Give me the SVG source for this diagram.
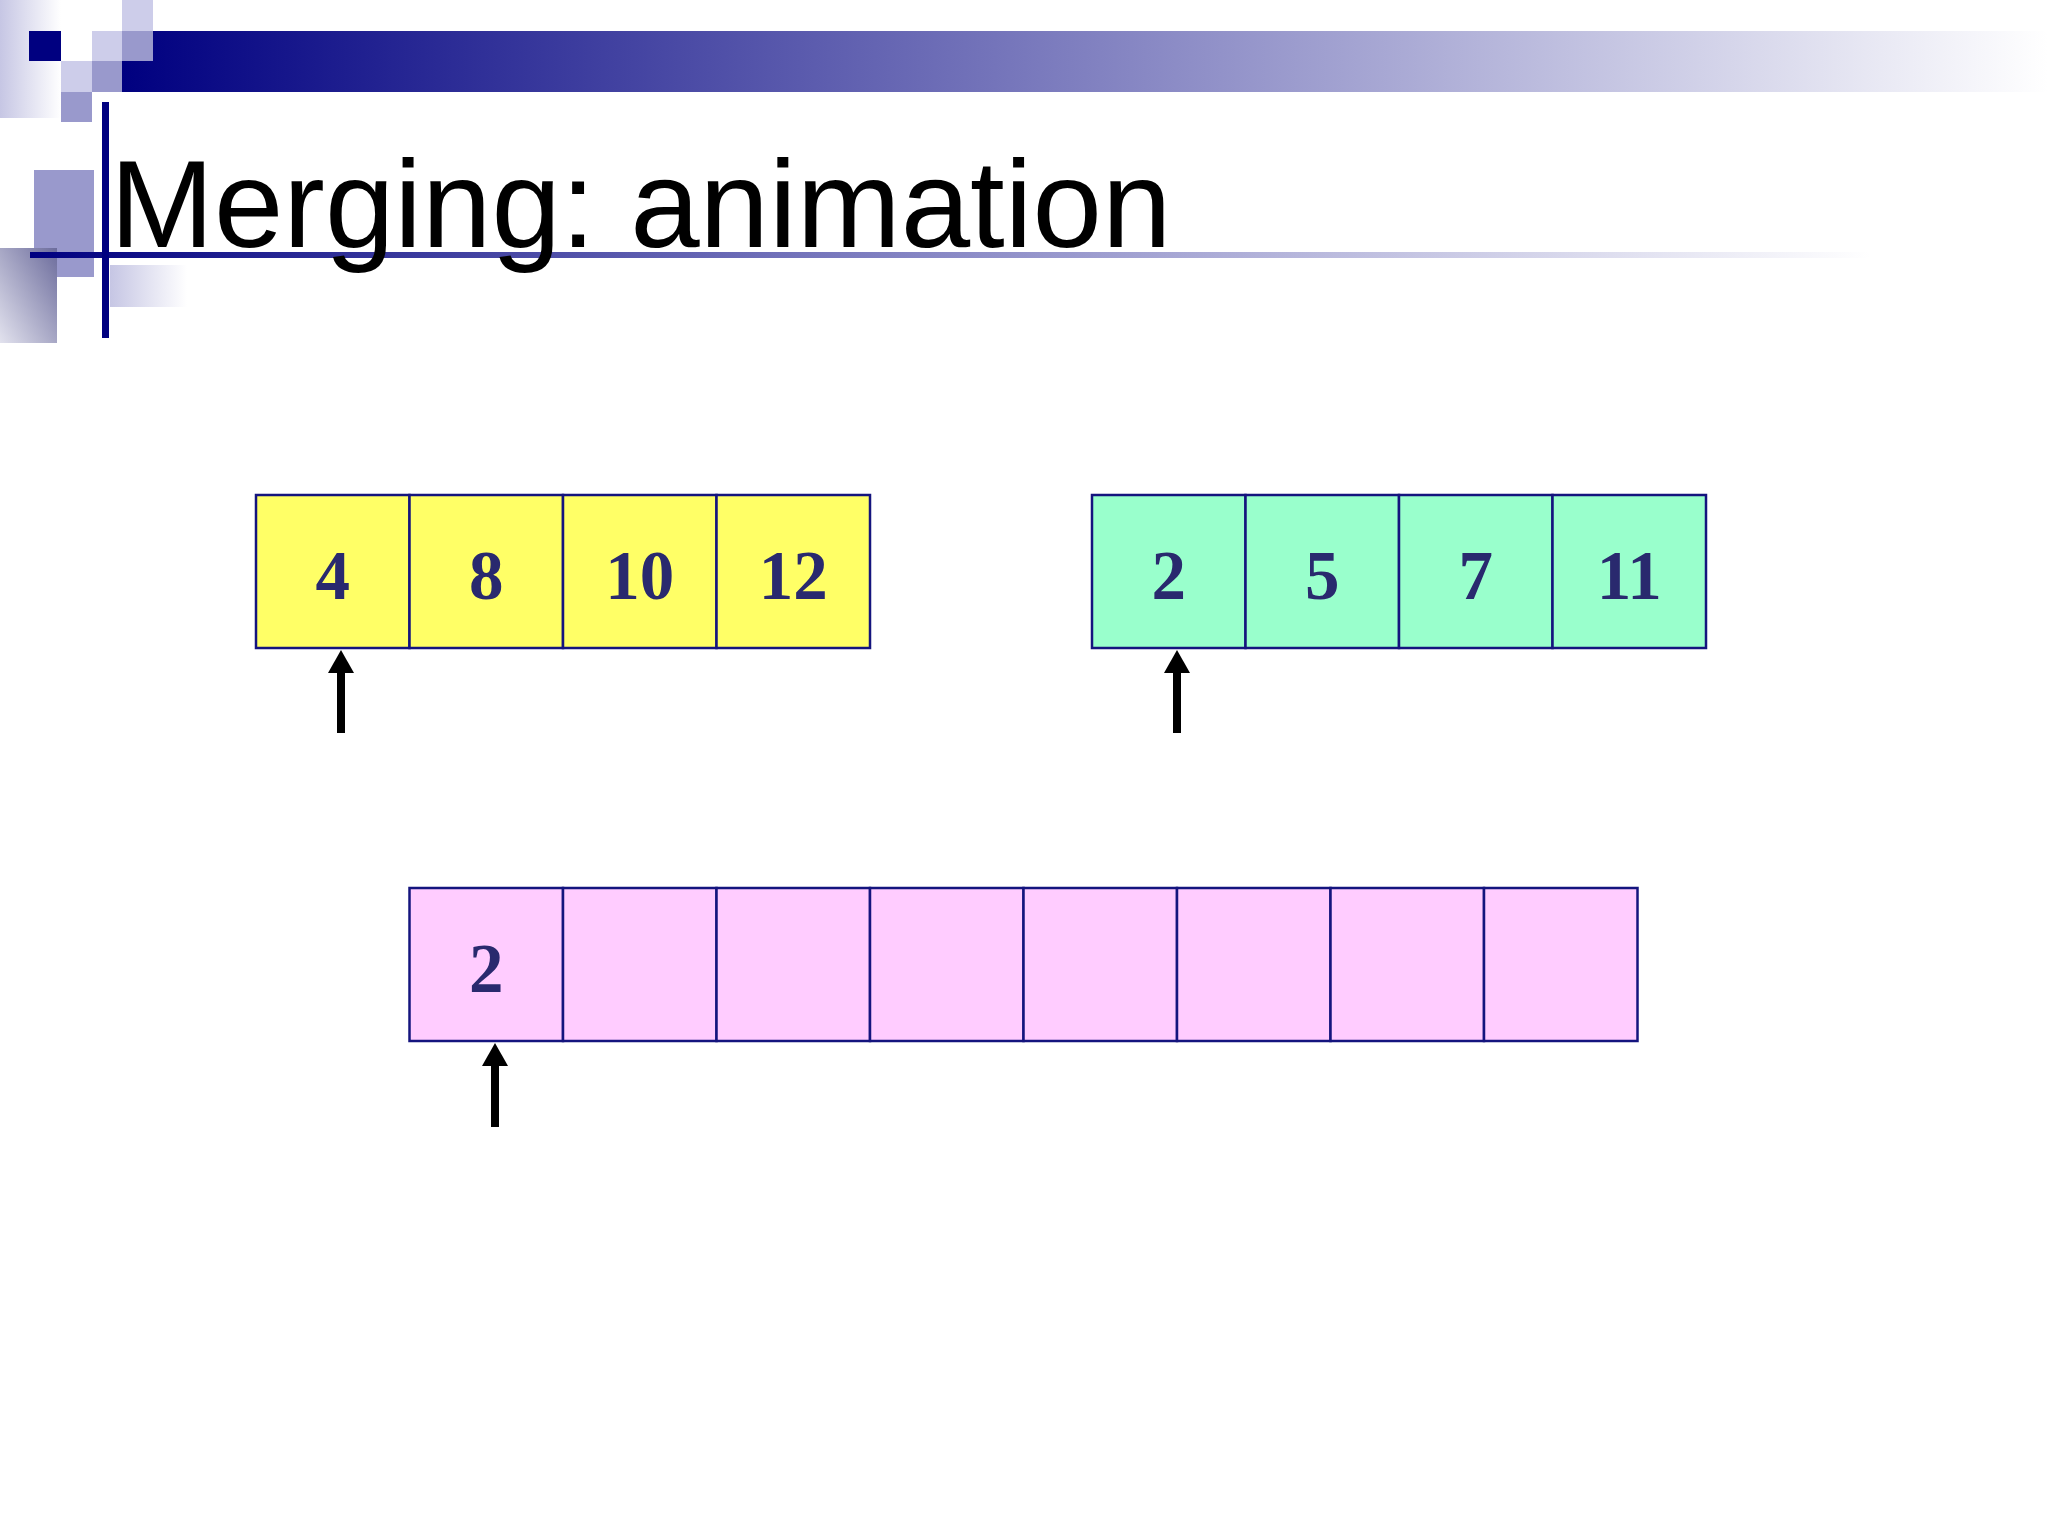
<svg xmlns="http://www.w3.org/2000/svg" width="2048" height="1536" viewBox="0 0 2048 1536">
<defs>
<style>
.title{font-family:"Liberation Sans",Arial,sans-serif;font-size:124.8px;fill:#000}
.cell{stroke:#14147e;stroke-width:2.5}
.y{fill:#ffff66}
.g{fill:#99ffcc}
.p{fill:#ffccff}
.num{font-family:"Liberation Serif","Times New Roman",serif;font-weight:bold;font-size:69px;fill:#29296e;text-anchor:middle}
.lt{fill:#cdcdea}
.md{fill:#9999cc}
.dk{fill:#000080}
.ptr{stroke:#000;stroke-width:8;fill:none;marker-end:url(#head)}
</style>
<linearGradient id="bar" x1="122" y1="0" x2="2048" y2="0" gradientUnits="userSpaceOnUse">
<stop offset="0" stop-color="#000080"/>
<stop offset="0.5" stop-color="#8080c0"/>
<stop offset="1" stop-color="#ffffff"/>
</linearGradient>
<linearGradient id="hline" x1="30" y1="0" x2="1870" y2="0" gradientUnits="userSpaceOnUse">
<stop offset="0" stop-color="#000080"/>
<stop offset="0.5" stop-color="#8a8ac6"/>
<stop offset="1" stop-color="#ffffff"/>
</linearGradient>
<linearGradient id="fadeR" x1="0" y1="0" x2="1" y2="0">
<stop offset="0" stop-color="#c6c6e4"/>
<stop offset="1" stop-color="#ffffff"/>
</linearGradient>
<linearGradient id="grayBox" x1="1" y1="0" x2="0" y2="1">
<stop offset="0" stop-color="#6c6c9c"/>
<stop offset="1" stop-color="#e2e2ee"/>
</linearGradient>
<marker id="head" markerUnits="userSpaceOnUse" markerWidth="23" markerHeight="26" refX="0" refY="13" orient="auto">
<path d="M0,0 L23,13 L0,26 z" fill="#000"/>
</marker>
</defs>
<rect width="2048" height="1536" fill="#fff"/>

<g id="decoration">
<rect x="0" y="0" width="61" height="118" fill="url(#fadeR)"/>
<rect x="122" y="31" width="1926" height="61" fill="url(#bar)"/>
<rect class="dk" x="29" y="31" width="32" height="30"/>
<rect class="lt" x="92" y="31" width="30" height="30"/>
<rect class="md" x="122" y="31" width="31" height="30"/>
<rect class="lt" x="122" y="0" width="31" height="31"/>
<rect class="lt" x="61" y="61" width="31" height="31"/>
<rect class="md" x="92" y="61" width="30" height="31"/>
<rect class="md" x="61" y="92" width="31" height="30"/>
<rect class="md" x="34" y="170" width="60" height="107"/>
<rect x="0" y="248" width="57" height="95" fill="url(#grayBox)"/>
<rect x="110" y="265" width="77" height="42" fill="url(#fadeR)"/>
<rect x="30" y="252" width="1840" height="6" fill="url(#hline)"/>
<rect class="dk" x="102" y="102" width="7" height="236"/>
</g>

<text class="title" x="110" y="247">Merging: animation</text>

<g id="arrayA">
<g id="a0"><rect class="cell y" x="256" y="495" width="153.5" height="153"/><text class="num" x="332.75" y="599">4</text></g>
<g id="a1"><rect class="cell y" x="409.5" y="495" width="153.5" height="153"/><text class="num" x="486.25" y="599">8</text></g>
<g id="a2"><rect class="cell y" x="563" y="495" width="153.5" height="153"/><text class="num" x="639.75" y="599">10</text></g>
<g id="a3"><rect class="cell y" x="716.5" y="495" width="153.5" height="153"/><text class="num" x="793.25" y="599">12</text></g>
</g>

<g id="arrayB">
<g id="b0"><rect class="cell g" x="1092" y="495" width="153.5" height="153"/><text class="num" x="1168.75" y="599">2</text></g>
<g id="b1"><rect class="cell g" x="1245.5" y="495" width="153.5" height="153"/><text class="num" x="1322.25" y="599">5</text></g>
<g id="b2"><rect class="cell g" x="1399" y="495" width="153.5" height="153"/><text class="num" x="1475.75" y="599">7</text></g>
<g id="b3"><rect class="cell g" x="1552.5" y="495" width="153.5" height="153"/><text class="num" x="1629.25" y="599">11</text></g>
</g>

<g id="arrayC">
<g id="c0"><rect class="cell p" x="409.5" y="888" width="153.5" height="153"/><text class="num" x="486.25" y="992">2</text></g>
<g id="c1"><rect class="cell p" x="563" y="888" width="153.5" height="153"/></g>
<g id="c2"><rect class="cell p" x="716.5" y="888" width="153.5" height="153"/></g>
<g id="c3"><rect class="cell p" x="870" y="888" width="153.5" height="153"/></g>
<g id="c4"><rect class="cell p" x="1023.5" y="888" width="153.5" height="153"/></g>
<g id="c5"><rect class="cell p" x="1177" y="888" width="153.5" height="153"/></g>
<g id="c6"><rect class="cell p" x="1330.5" y="888" width="153.5" height="153"/></g>
<g id="c7"><rect class="cell p" x="1484" y="888" width="153.5" height="153"/></g>
</g>

<g id="connectors">
<path class="ptr" d="M341,733 L341,673"/>
<path class="ptr" d="M1177,733 L1177,673"/>
<path class="ptr" d="M495,1127 L495,1066"/>
</g>
</svg>
